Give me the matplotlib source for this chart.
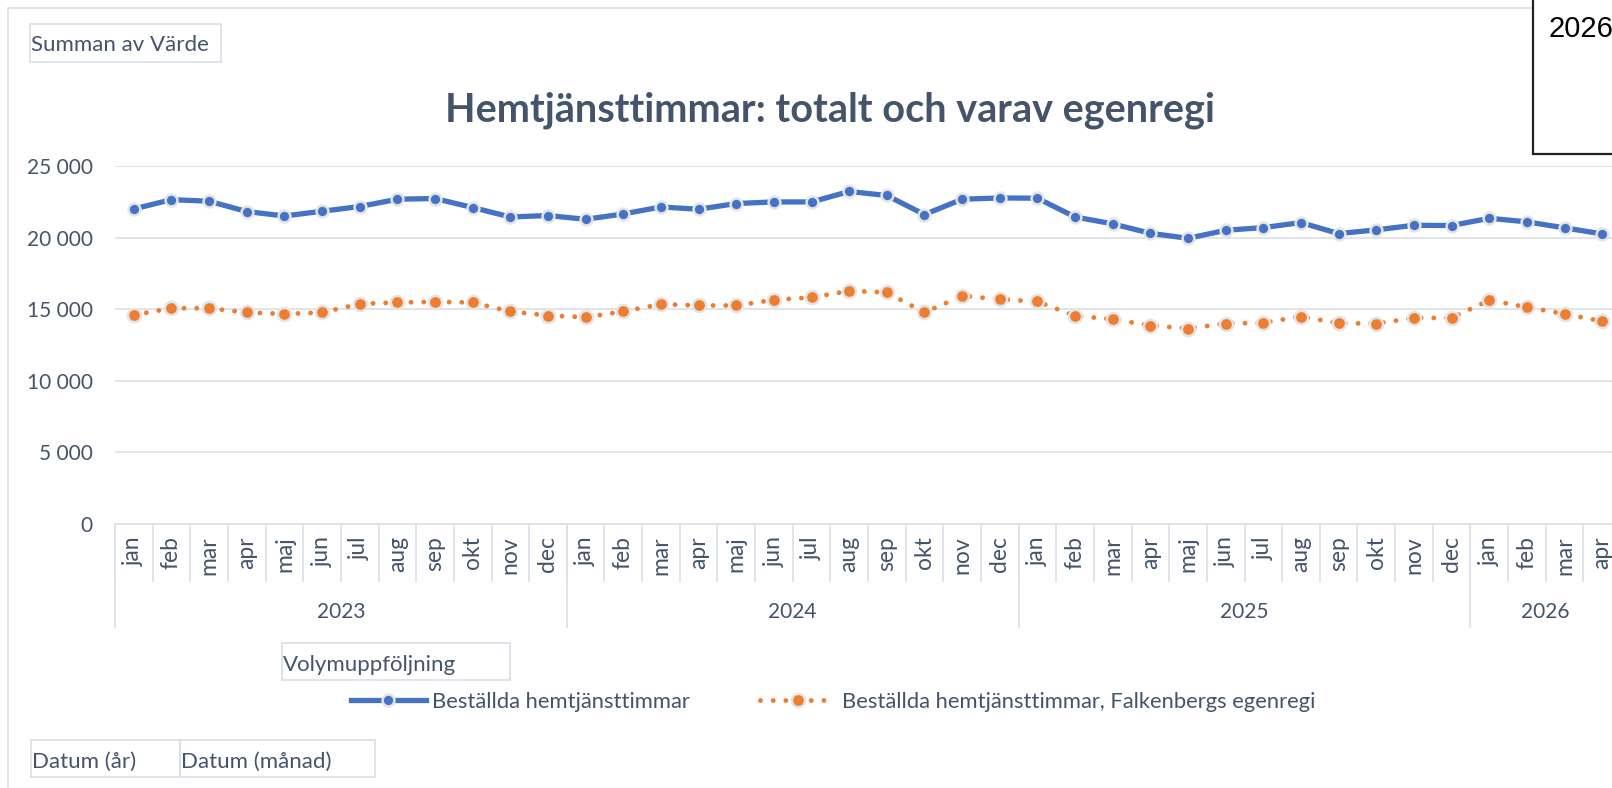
import numpy as np
import matplotlib.pyplot as plt
from matplotlib.patches import Rectangle
from matplotlib.ticker import FuncFormatter
import matplotlib.transforms as mtransforms

W, H = 1612, 788

months = ["jan", "feb", "mar", "apr", "maj", "jun", "jul", "aug", "sep", "okt", "nov", "dec"]
years = ["2023", "2024", "2025", "2026"]
months_per_year = [12, 12, 12, 4]

# Beställda hemtjänsttimmar
total = [22000, 22650, 22540, 21820, 21510, 21840, 22170, 22680, 22730, 22100, 21440, 21540,
         21280, 21650, 22140, 21980, 22380, 22490, 22490, 23220, 22940, 21610, 22680, 22770,
         22750, 21440, 20960, 20300, 19950, 20510, 20700, 21050, 20280, 20540, 20860, 20840,
         21350, 21100, 20680, 20260]
# varav Falkenbergs egenregi
egenregi = [14600, 15070, 15070, 14770, 14670, 14770, 15370, 15470, 15510, 15470, 14840, 14560,
            14440, 14840, 15350, 15260, 15260, 15650, 15820, 16280, 16170, 14770, 15930, 15700,
            15540, 14530, 14300, 13860, 13650, 14000, 14050, 14490, 14020, 14000, 14390, 14390,
            15630, 15140, 14670, 14160]

BLUE = "#4472C4"
ORANGE = "#ED7D31"
EDGE = "#E4E4E4"
TXT = "#44546A"
GRID = "#DEE2E8"
BOXC = "#D9DEE6"

plt.rcParams['font.family'] = ['Lato', 'DejaVu Sans']

fig = plt.figure(figsize=(W / 100, H / 100), dpi=100)


def fx(x):
    return x / W


def fy(y):
    return 1 - y / H


def box(x0, y0, x1, y1, ec=BOXC, lw=1.2, fc="none", z=1):
    fig.patches.append(Rectangle((fx(x0), fy(y1)), (x1 - x0) / W, (y1 - y0) / H,
                                 transform=fig.transFigure, fill=(fc != "none"),
                                 facecolor=fc, edgecolor=ec, lw=lw, zorder=z))


# outer chart frame
box(8, 8, 1660, 830, ec="#DCE0E6", lw=1.2)

cat_w = 37.65
ax = fig.add_axes([fx(115), fy(524), len(total) * cat_w / W, (524 - 166) / H])
x = np.arange(len(total))

ax.plot(x, total, color=BLUE, lw=3.8, marker='o', ms=8.5, mfc=BLUE, mec=EDGE, mew=1.8,
        solid_joinstyle='round', zorder=3, label="Beställda hemtjänsttimmar", clip_on=False)
ax.plot(x, egenregi, color=ORANGE, lw=3.5, linestyle=(0, (0.01, 2.6)), dash_capstyle='round',
        marker='o', ms=9.5, mfc=ORANGE, mec=EDGE, mew=1.8, zorder=3,
        label="Beställda hemtjänsttimmar, Falkenbergs egenregi", clip_on=False)

ax.set_xlim(-0.5, len(total) - 0.5)
ax.set_ylim(0, 25000)
ax.set_yticks(range(0, 25001, 5000))
ax.yaxis.set_major_formatter(FuncFormatter(lambda v, p: f"{int(v):,}".replace(",", " ")))
ax.grid(axis='y', color=GRID, lw=1.3)
ax.set_axisbelow(True)
for s in ['top', 'right', 'left']:
    ax.spines[s].set_visible(False)
ax.spines['bottom'].set_color(GRID)
ax.spines['bottom'].set_linewidth(1.3)
ax.tick_params(axis='y', length=0, pad=16, labelsize=15, labelcolor=TXT)
ax.set_xticks([])

# multi-level category axis
trans = mtransforms.blended_transform_factory(ax.transData, ax.transAxes)
month_drop = (581 - 524) / (524 - 166)
year_drop = (627 - 524) / (524 - 166)
for k in range(len(total) + 1):
    ax.plot([k - 0.5, k - 0.5], [0, -month_drop], transform=trans, color=GRID, lw=1.3,
            clip_on=False)
i = 0
for yr, n in zip(years, months_per_year):
    ax.plot([i - 0.5, i - 0.5], [0, -year_drop], transform=trans, color=GRID, lw=1.3,
            clip_on=False)
    for j in range(n):
        ax.text(i + j, -(536 - 524) / (524 - 166), months[j], transform=trans, rotation=90,
                ha='center', va='top', fontsize=16.5, color=TXT)
    ax.text(i + (n - 1) / 2, -(612 - 524) / (524 - 166), yr, transform=trans,
            ha='center', va='center', fontsize=15, color=TXT)
    i += n

# title and field buttons
fig.text(fx(830), fy(110), "Hemtjänsttimmar: totalt och varav egenregi", ha='center',
         va='center', fontsize=28.5, fontweight='bold', color=TXT)

box(30, 24, 221, 62)
fig.text(fx(31), fy(45), "Summan av Värde", ha='left', va='center', fontsize=16, color=TXT)
box(282, 643, 510, 680)
fig.text(fx(283), fy(665), "Volymuppföljning", ha='left', va='center', fontsize=16, color=TXT)
box(31, 740, 180, 777)
box(180, 740, 375, 777)
fig.text(fx(32), fy(762), "Datum (år)", ha='left', va='center', fontsize=16, color=TXT)
fig.text(fx(181), fy(762), "Datum (månad)", ha='left', va='center', fontsize=16, color=TXT)

leg = ax.legend(loc='center', bbox_to_anchor=(fx(833), fy(702)), bbox_transform=fig.transFigure,
                ncol=2, frameon=False, fontsize=15.8, handlelength=3.4, handletextpad=0.3,
                columnspacing=3.2, numpoints=1, borderpad=0)
for t in leg.get_texts():
    t.set_color(TXT)

# pasted label box in the top right corner
box(1533, -20, 1660, 154, ec="#222222", lw=1.6, fc="white", z=5)
fig.text(fx(1549), fy(29), "2026", ha='left', va='center', fontsize=21, color="black",
         family=['Liberation Sans', 'DejaVu Sans'], zorder=6)

fig.savefig("out.png", dpi=100, facecolor="white")
